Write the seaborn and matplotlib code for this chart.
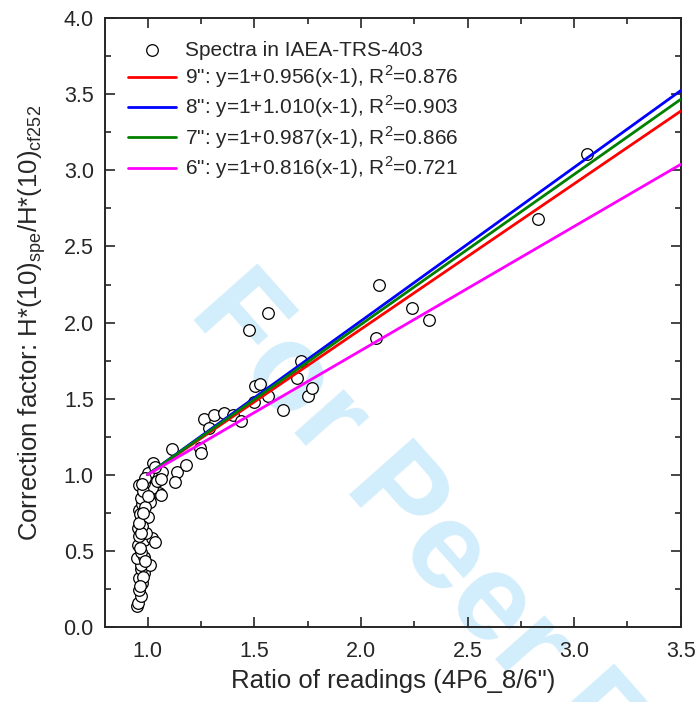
import numpy as np
import pandas as pd
import matplotlib
matplotlib.use('Agg')
import matplotlib.pyplot as plt
import seaborn as sns
from matplotlib.ticker import MultipleLocator

# measured spectra (ratio of readings, correction factor)
ratio = [0.95, 0.955, 0.97, 0.96, 0.975, 0.96, 0.985, 0.97, 1.01, 0.97,
         0.95, 0.985, 0.97, 0.955, 0.985, 1.02, 0.995, 0.955, 0.97, 1.0,
         0.96, 0.975, 1.01, 0.97, 1.055, 1.02, 0.985, 1.0, 1.025, 1.045,
         1.07, 1.065, 1.065, 1.035, 0.99, 0.96, 0.98, 0.96, 0.975, 0.965,
         0.99, 0.965, 0.98, 0.965, 0.99, 1.035, 0.97, 0.96, 0.98, 0.975, 1.0,
         1.117, 1.136, 1.18, 1.13, 1.244, 1.25, 1.263, 1.29, 1.314, 1.36,
         1.40, 1.44, 1.478, 1.497, 1.506, 1.527, 1.563, 1.567, 1.633, 1.70,
         1.72, 1.75, 1.77, 2.07, 2.083, 2.24, 2.32, 2.83, 3.06]
factor = [0.14, 0.16, 0.20, 0.24, 0.29, 0.32, 0.355, 0.38, 0.41, 0.41,
          0.45, 0.46, 0.49, 0.54, 0.57, 0.585, 0.62, 0.65, 0.70, 0.72,
          0.77, 0.81, 0.82, 0.85, 0.88, 0.91, 0.945, 1.01, 1.08, 0.96,
          1.02, 0.97, 0.87, 1.05, 0.98, 0.93, 0.89, 0.60, 0.66, 0.74,
          0.79, 0.52, 0.33, 0.27, 0.43, 0.56, 0.62, 0.68, 0.75, 0.94, 0.86,
          1.17, 1.02, 1.065, 0.95, 1.175, 1.14, 1.366, 1.31, 1.392, 1.405,
          1.392, 1.353, 1.95, 1.478, 1.583, 1.596, 2.06, 1.517, 1.425, 1.635,
          1.75, 1.517, 1.57, 1.90, 2.246, 2.095, 2.02, 2.68, 3.11]

# fitted lines y = 1 + k (x - 1)
sizes = ['9"', '8"', '7"', '6"']
slopes = [0.956, 1.010, 0.987, 0.816]
r2 = [0.876, 0.903, 0.866, 0.721]
colors = ['#ff0000', '#0000ff', '#008000', '#ff00ff']
x_fit = [1.0, 3.5]

sns.set_style('ticks')
plt.rcParams['font.family'] = ['Liberation Sans', 'DejaVu Sans']
plt.rcParams['mathtext.fontset'] = 'custom'
plt.rcParams['mathtext.rm'] = 'Liberation Sans'

fig = plt.figure(figsize=(6.99, 7.02), dpi=100)
ax = fig.add_axes([0.150, 0.107, 0.824, 0.867])

# watermark behind the data
ax.text(0.268, 0.553, 'For Peer Review', transform=fig.transFigure,
        rotation=-48.4, rotation_mode='anchor', ha='left', va='baseline',
        fontsize=89, fontweight='bold', color='#d2edfb', zorder=0,
        clip_on=False)

pts = pd.DataFrame({'ratio': ratio, 'factor': factor})
sns.scatterplot(data=pts, x='ratio', y='factor', ax=ax, marker='o', s=70,
                facecolor='white', edgecolor='black', linewidth=0.9,
                zorder=3, label='Spectra in IAEA-TRS-403')

for name, k, r, c in zip(sizes, slopes, r2, colors):
    fit = pd.DataFrame({'x': x_fit, 'y': [1 + k * (v - 1) for v in x_fit]})
    lab = name + ': y=1+%.3f(x-1), R$^{\\mathregular{2}}$=%.3f' % (k, r)
    sns.lineplot(data=fit, x='x', y='y', ax=ax, color=c, linewidth=2.0,
                 label=lab, zorder=4)

ax.set_xlim(0.8, 3.5)
ax.set_ylim(0, 4.0)
ax.xaxis.set_major_locator(MultipleLocator(0.5))
ax.xaxis.set_minor_locator(MultipleLocator(0.25))
ax.yaxis.set_major_locator(MultipleLocator(0.5))
ax.yaxis.set_minor_locator(MultipleLocator(0.25))
ax.tick_params(which='both', direction='in', top=True, right=True,
               width=1.2, labelsize=15.5)
ax.tick_params(which='major', length=7)
ax.tick_params(which='minor', length=4)
ax.tick_params(axis='x', which='both', top=True, labeltop=False, pad=10.5)
ax.tick_params(axis='y', which='both', right=True, labelright=False, pad=8)
for s in ax.spines.values():
    s.set_linewidth(1.4)
    s.set_visible(True)

ax.set_xlabel('Ratio of readings (4P6_8/6")', fontsize=18.5, labelpad=5)
ax.set_ylabel('Correction factor: H*(10)$_{\\mathregular{spe}}$/H*(10)$_{\\mathregular{cf252}}$',
              fontsize=18.5, labelpad=11)

ax.legend(loc='upper left', bbox_to_anchor=(0.04, 0.963), frameon=False,
          fontsize=15, handlelength=2.3, handletextpad=0.45,
          labelspacing=0.18, borderpad=0, borderaxespad=0)

fig.savefig('out.png', dpi=100)
